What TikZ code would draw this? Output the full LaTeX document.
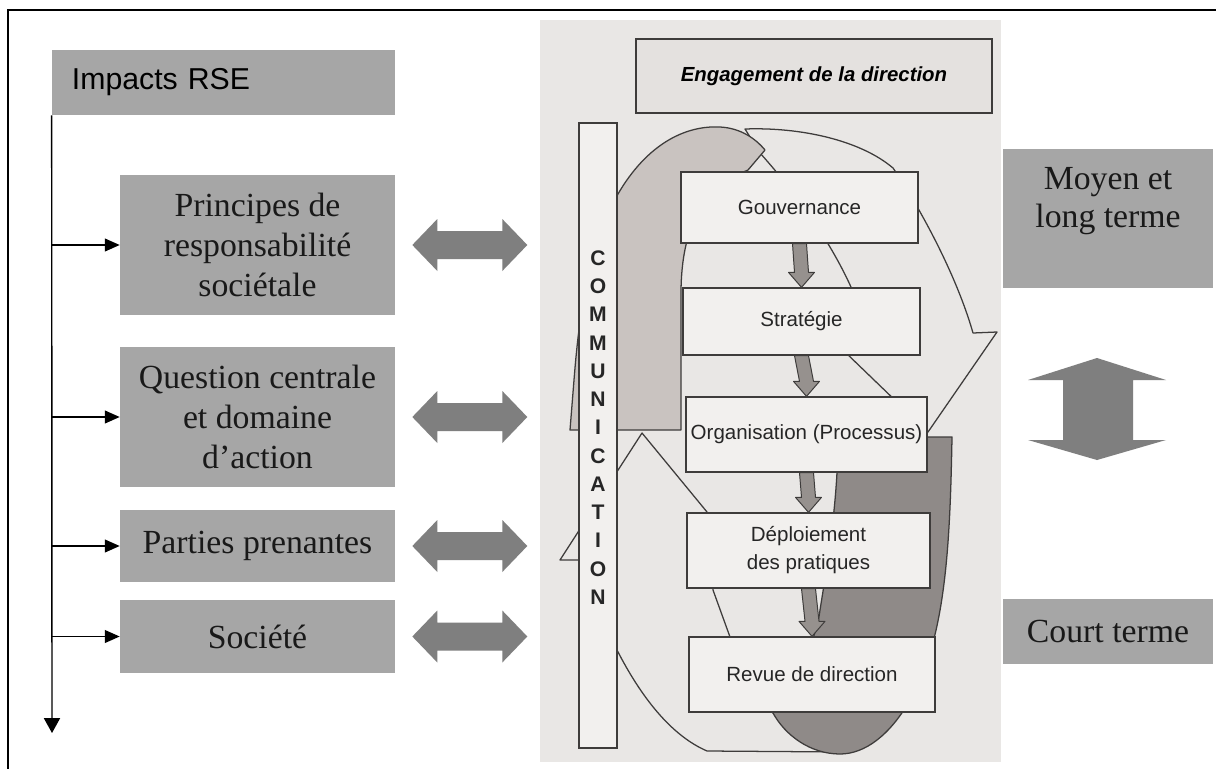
\documentclass[tikz,border=0pt]{standalone}
\usepackage{fontspec}
\setmainfont{Liberation Serif}
\setsansfont{Liberation Sans}
\usetikzlibrary{arrows.meta,calc,positioning}

\definecolor{boxgray}{RGB}{166,166,166}
\definecolor{arrowgray}{RGB}{127,127,127}
\definecolor{photobg}{RGB}{233,231,229}
\definecolor{paperfill}{RGB}{242,240,238}
\definecolor{engagefill}{RGB}{228,225,223}
\definecolor{bandfill}{RGB}{201,195,192}
\definecolor{darkfill}{RGB}{143,138,136}
\definecolor{arrowfill}{RGB}{150,145,142}
\definecolor{inkline}{RGB}{62,60,59}

\tikzset{
  impactbox/.style={fill=boxgray, inner xsep=0.5cm, inner ysep=0pt, minimum width=8.575cm,
    minimum height=1.625cm, text width=7.575cm, align=left, font=\sffamily\fontsize{21.5}{26}\selectfont},
  leftbox/.style={fill=boxgray, inner sep=0pt, minimum width=6.875cm, align=center,
    text=black!90, font=\fontsize{24}{28.5}\selectfont},
  termbox/.style={fill=boxgray, inner sep=0pt, minimum width=5.25cm, align=center,
    text=black!90, font=\fontsize{24}{27}\selectfont},
  stepbox/.style={draw=inkline, line width=0.9pt, fill=paperfill, inner sep=0pt, align=center,
    text=black!85, font=\sffamily\fontsize{14.6}{20}\selectfont},
  engagebox/.style={draw=inkline, line width=0.9pt, fill=engagefill, inner sep=0pt,
    font=\sffamily\bfseries\itshape\fontsize{14.5}{17}\selectfont},
  commbar/.style={draw=inkline, line width=0.9pt, fill=paperfill},
  commletter/.style={inner sep=0pt, text=black!85, font=\sffamily\bfseries\fontsize{15}{15}\selectfont},
  trunk/.style={line width=1pt, -{Triangle[length=0.37cm, width=0.4cm]}},
  branch/.style={line width=1pt, -{Triangle[length=0.37cm, width=0.32cm]}},
  fatarrow/.style={fill=arrowfill, draw=inkline, line width=0.7pt, line join=round},
  grayarrow/.style={fill=arrowgray},
  shapeline/.style={draw=inkline, line width=0.9pt, line join=round},
}

\begin{document}
\begin{tikzpicture}[x=0.025cm, y=-0.025cm]

	\useasboundingbox (0,0) rectangle (1216,769);
	\clip (0,0) rectangle (1216,769);
	\fill [white] (0,0) rectangle (1216,769);

	% cadre
	\draw [line width=1.7pt] (8,790) -- (8,10) -- (1240,10);

	% colonne de gauche
	\node [impactbox] (impacts) at (223.5,82.5) {Impacts RSE};
	\node [leftbox, minimum height=3.5cm] (princ) at (257.5,245) {Principes de\\responsabilité\\sociétale};
	\node [leftbox, minimum height=3.5cm] (quest) at (257.5,417) {Question centrale\\et domaine\\d’action};
	\node [leftbox, minimum height=1.8cm] (parties) at (257.5,546) {Parties prenantes};
	\node [leftbox, minimum height=1.825cm] (societe) at (257.5,636.5) {Société};

	\coordinate (trunkend) at (52,733);
	\draw [trunk] (impacts.south west) -- (trunkend);
	\foreach \b in {princ,quest,parties,societe}
		\draw [branch] (\b.west -| impacts.south west) -- (\b.west);

	% doubles fleches grises
	\foreach \b in {princ,quest,parties,societe}
		\fill [grayarrow, shift={(\b.east)}] (17,0) -- (42,-26) -- (42,-14) -- (107,-14) -- (107,-26)
			-- (132,0) -- (107,26) -- (107,14) -- (42,14) -- (42,26) -- cycle;

	% la figure du milieu (photo)
	\fill [photobg] (540,20) rectangle (1001,762);

	% fleche blanche du haut
	\path [shapeline, fill=photobg] (745,129) .. controls (800,127) and (860,140) .. (893,168)
		.. controls (915,200) and (955,270) .. (973,333) -- (997,332) -- (928,432) -- (845,352)
		-- (870,345) .. controls (860,290) and (820,220) .. (760,153) -- cycle;

	% bande grise claire
	\path [shapeline, fill=bandfill] (570,430) -- (574,380) .. controls (578,330) and (585,260) .. (612,205)
		.. controls (640,150) and (680,125) .. (720,127) .. controls (740,128) and (755,138) .. (765,150)
		-- (748,170) .. controls (700,190) and (682,230) .. (681,290) -- (681,430) -- cycle;

	% fleche blanche du bas
	\path [shapeline, fill=photobg] (642,433) -- (707,512) -- (713,590) -- (730,637) -- (773,713)
		-- (845,752) -- (707,751) .. controls (670,735) and (640,695) .. (617,650)
		.. controls (608,620) and (605,590) .. (605,560) -- (560,560) -- cycle;

	% bande grise foncee
	\path [shapeline, fill=darkfill] (838,437) -- (952,437) .. controls (950,550) and (945,640) .. (910,700)
		.. controls (890,735) and (865,754) .. (840,754) .. controls (810,754) and (785,735) .. (773,713)
		.. controls (790,680) and (815,650) .. (820,610) .. controls (828,560) and (838,500) .. cycle;

	% communication
	\node [commbar, minimum width=0.95cm, minimum height=15.625cm] (comm) at (598,435.5) {};
	\foreach \l [count=\i from 0] in {C,O,M,M,U,N,I,C,A,T,I,O,N}
		\node [commletter] (l\i) at (598,258+28.25*\i) {\l};

	\node [engagebox, minimum width=8.9cm, minimum height=1.85cm] (engage) at (814,76) {Engagement de la direction};

	% les etapes
	\node [stepbox, minimum width=5.925cm, minimum height=1.775cm] (gouv) at (799.5,207.5) {Gouvernance};
	\node [stepbox, minimum width=5.925cm, minimum height=1.675cm] (strat) at (801.5,321.5) {Stratégie};
	\node [stepbox, minimum width=6.025cm, minimum height=1.875cm] (orga) at (806.5,434.5) {Organisation (Processus)};
	\node [stepbox, minimum width=6.075cm, minimum height=1.875cm] (deploi) at (808.5,550.5) {Déploiement\\des pratiques};
	\node [stepbox, minimum width=6.15cm, minimum height=1.875cm] (revue) at (812,674.5) {Revue de direction};

	\foreach \a/\b in {gouv/strat,strat/orga,orga/deploi,deploi/revue}
		\path [fatarrow] ($(\a.south)+(-7,0)$) -- ($(\b.north)+(-7,-15)$) -- ($(\b.north)+(-13,-15)$)
			-- (\b.north) -- ($(\b.north)+(13,-15)$) -- ($(\b.north)+(7,-15)$) -- ($(\a.south)+(7,0)$) -- cycle;

	% colonne de droite
	\node [termbox, minimum height=3.475cm] (moyen) at (1108,218.5) {};
	\node [termbox, minimum width=0pt, below=0.45cm of moyen.north] (moyentxt) {Moyen et\\long terme};
	\node [termbox, minimum height=1.625cm] (court) at (1108,631.5) {Court terme};

	\fill [grayarrow] (1097,358) -- (1166,380) -- (1133,380) -- (1133,440) -- (1166,440) -- (1097,460)
		-- (1028,440) -- (1063,440) -- (1063,380) -- (1028,380) -- cycle;

\end{tikzpicture}
\end{document}
